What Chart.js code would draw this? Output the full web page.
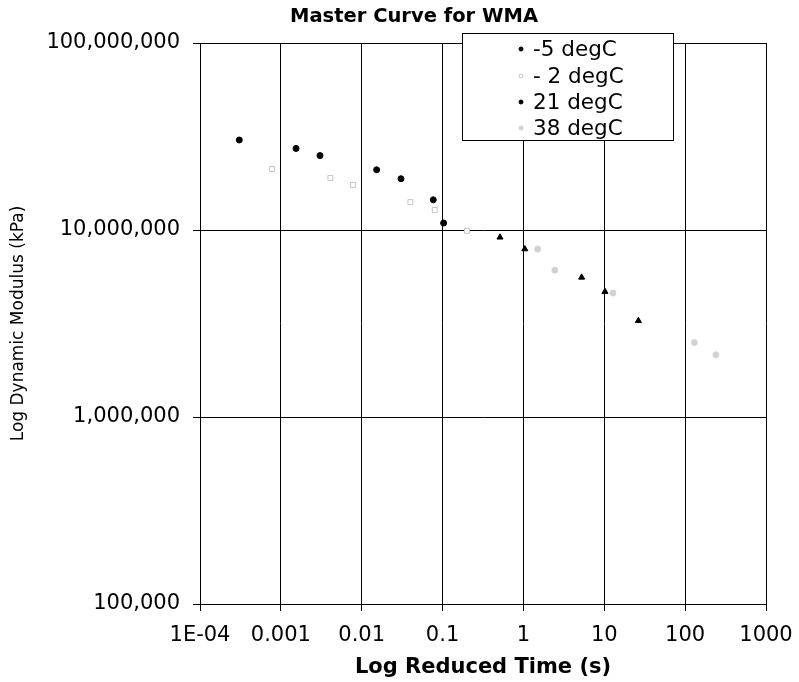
<!DOCTYPE html>
<html>
<head>
<meta charset="utf-8">
<script src="https://cdn.jsdelivr.net/npm/chart.js@4"></script>
<style>
  body { margin: 0; background: #fff; }
</style>
</head>
<body>
<canvas id="chart" width="799" height="682"></canvas>
<script>
// reduced time (s) and dynamic modulus (kPa) per test temperature
const minus5Time = [3.06e-4, 1.54e-3, 3.05e-3, 0.0153, 0.0306, 0.0767, 0.103]
const minus5Mod = [3.03e7, 2.73e7, 2.50e7, 2.10e7, 1.88e7, 1.45e7, 1.09e7]

const minus2Time = [7.8e-4, 4.1e-3, 7.8e-3, 0.040, 0.080, 0.20]
const minus2Mod = [2.12e7, 1.90e7, 1.74e7, 1.41e7, 1.28e7, 9.9e6]

const plus21Time = [0.513, 1.04, 5.25, 10.2, 26.4]
const plus21Mod = [9.14e6, 7.91e6, 5.58e6, 4.68e6, 3.27e6]

const plus38Time = [1.5, 2.45, 12.8, 130, 240]
const plus38Mod = [7.9e6, 6.1e6, 4.6e6, 2.5e6, 2.15e6]

const xTickValues = [1e-4, 1e-3, 1e-2, 0.1, 1, 10, 100, 1000]
const xTickLabels = ['1E-04', '0.001', '0.01', '0.1', '1', '10', '100', '1000']
const yTickValues = [1e5, 1e6, 1e7, 1e8]
const yTickLabels = ['100,000', '1,000,000', '10,000,000', '100,000,000']

const FONT = 'DejaVu Sans'

function toPoints(xs, ys) {
    return xs.map((x, i) => ({ x: x, y: ys[i] }))
}

const chartData = {
    datasets: [
        {
            label: '-5 degC',
            data: toPoints(minus5Time, minus5Mod),
            pointStyle: 'circle',
            pointRadius: 3,
            backgroundColor: '#000',
            borderColor: '#000',
            borderWidth: 1
        },
        {
            label: '- 2 degC',
            data: toPoints(minus2Time, minus2Mod),
            pointStyle: 'rect',
            pointRadius: 3.5,
            backgroundColor: '#fff',
            borderColor: '#c4c4c4',
            borderWidth: 1
        },
        {
            label: '21 degC',
            data: toPoints(plus21Time, plus21Mod),
            pointStyle: 'triangle',
            pointRadius: 3.5,
            backgroundColor: '#000',
            borderColor: '#000',
            borderWidth: 1
        },
        {
            label: '38 degC',
            data: toPoints(plus38Time, plus38Mod),
            pointStyle: 'circle',
            pointRadius: 3,
            backgroundColor: '#d2d2d2',
            borderColor: '#d2d2d2',
            borderWidth: 1
        }
    ]
}

// title and boxed legend drawn inside the plot, like the original sheet
const boxLegend = {
    id: 'boxLegend',
    afterDraw(chart) {
        const ctx = chart.ctx
        ctx.save()
        ctx.fillStyle = '#000'
        ctx.font = 'bold 19.5px "' + FONT + '"'
        ctx.textAlign = 'center'
        ctx.textBaseline = 'middle'
        ctx.fillText('Master Curve for WMA', 414, 17)

        ctx.fillStyle = '#fff'
        ctx.fillRect(462, 33, 212, 108)
        ctx.strokeStyle = '#000'
        ctx.lineWidth = 1
        ctx.strokeRect(462.5, 33.5, 211, 107)

        const rows = [49, 76, 102, 128]
        ctx.font = '21.5px "' + FONT + '"'
        ctx.textAlign = 'left'
        chart.data.datasets.forEach((ds, i) => {
            ctx.fillStyle = ds.backgroundColor
            ctx.strokeStyle = ds.borderColor
            ctx.lineWidth = 1
            Chart.helpers.drawPoint(ctx, { pointStyle: 'circle', radius: 2, borderWidth: 1, rotation: 0 }, 521, rows[i])
            ctx.fillStyle = '#000'
            ctx.fillText(ds.label, 533, rows[i] + 1)
        })
        ctx.restore()
    }
}

new Chart('chart', {
    type: 'scatter',
    data: chartData,
    plugins: [boxLegend],
    options: {
        responsive: false,
        animation: false,
        layout: { padding: { top: 43, right: 33, bottom: 0, left: 0 } },
        plugins: {
            legend: { display: false },
            tooltip: { enabled: false }
        },
        scales: {
            x: {
                type: 'logarithmic',
                min: 1e-4,
                max: 1000,
                afterBuildTicks: scale => { scale.ticks = xTickValues.map(v => ({ value: v })) },
                afterFit: scale => {
                    scale.height = 78
                    scale.paddingLeft = 0
                    scale.paddingRight = 0
                },
                ticks: {
                    callback: (v, i) => xTickLabels[i],
                    font: { family: FONT, size: 21 },
                    color: '#000',
                    padding: 12,
                    maxRotation: 0,
                    autoSkip: false
                },
                grid: { color: '#000', lineWidth: 1, tickLength: 7 },
                border: { color: '#000', width: 1 },
                title: {
                    display: true,
                    text: 'Log Reduced Time (s)',
                    font: { family: FONT, size: 21, weight: 'bold' },
                    color: '#000',
                    padding: { top: 4, bottom: 2 }
                }
            },
            y: {
                type: 'logarithmic',
                min: 1e5,
                max: 1e8,
                afterBuildTicks: scale => { scale.ticks = yTickValues.map(v => ({ value: v })) },
                afterFit: scale => {
                    scale.width = 200
                    scale.paddingTop = 0
                    scale.paddingBottom = 0
                },
                ticks: {
                    callback: (v, i) => yTickLabels[i],
                    font: { family: FONT, size: 21 },
                    color: '#000',
                    padding: 13,
                    autoSkip: false
                },
                grid: { color: '#000', lineWidth: 1, tickLength: 7 },
                border: { color: '#000', width: 1 },
                title: {
                    display: true,
                    text: 'Log Dynamic Modulus (kPa)',
                    font: { family: FONT, size: 17 },
                    color: '#000',
                    padding: { top: 8, bottom: 4 }
                }
            }
        }
    }
})
</script>
</body>
</html>
